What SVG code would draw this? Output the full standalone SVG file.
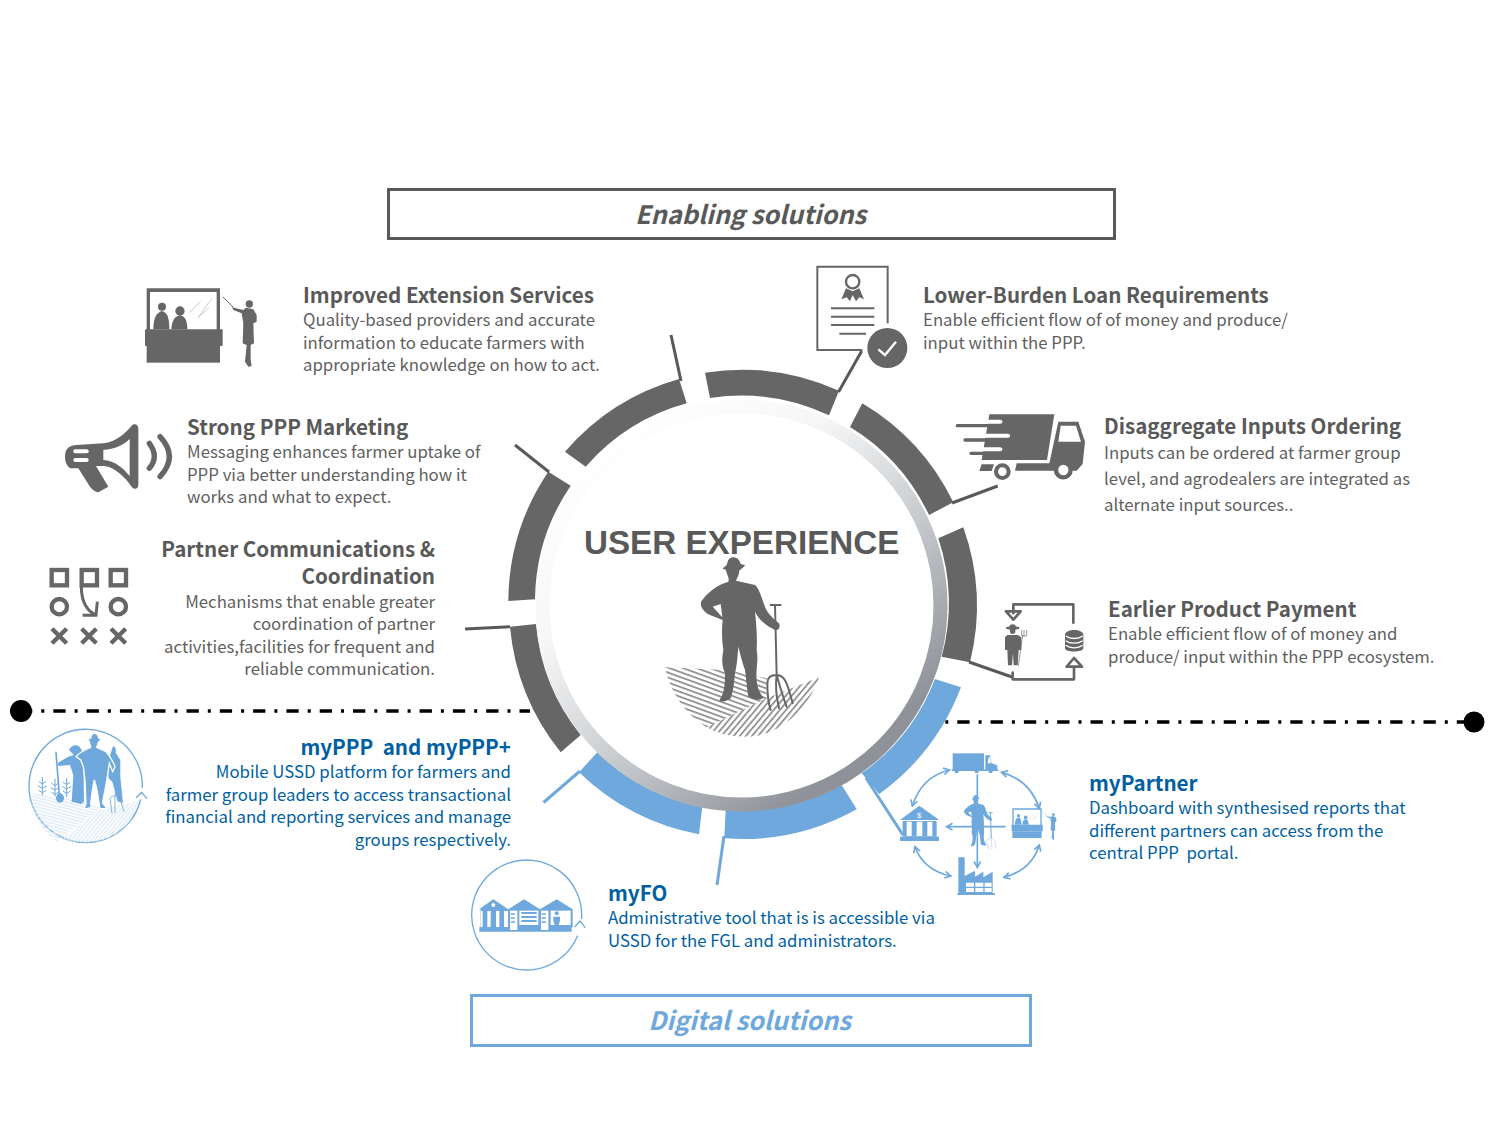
<svg xmlns="http://www.w3.org/2000/svg" width="1500" height="1125" viewBox="0 0 1500 1125">
<style>
text{font-family:"Noto Sans CJK SC","Source Sans Pro","Noto Sans",sans-serif;white-space:pre}
.h{font-size:20.600px;font-weight:700;fill:#595959}
.b{font-size:16.800px;fill:#5f5f5f}
.hb{font-size:20.600px;font-weight:700;fill:#005fa3}
.bb{font-size:16.800px;fill:#005fa3}
.e{text-anchor:end}
.t{font-size:25.300px;font-weight:700;font-style:italic;text-anchor:middle}
.seg{fill:#666}
.segb{fill:#6fa8dc}
.ln{stroke:#595959;stroke-width:3;fill:none}
.lb{stroke:#6fa8dc;stroke-width:3;fill:none}
.dd{stroke:#000;stroke-width:3.500;stroke-dasharray:12.300 9 3 9;fill:none}
.gi{fill:#666}
.bi{fill:#6fa8dc;color:#6fa8dc}
.w{fill:#fff}
.sg{fill:none;stroke:#666;stroke-linecap:round;stroke-linejoin:round}
.sb{fill:none;stroke:#6fa8dc;stroke-linecap:round;stroke-linejoin:round}
</style>
<defs>
<linearGradient id="rg" gradientUnits="userSpaceOnUse" x1="610" y1="440" x2="860" y2="750">
<stop offset="0" stop-color="#fff"/><stop offset=".3" stop-color="#f6f6f7"/><stop offset=".6" stop-color="#cdd0d3"/><stop offset="1" stop-color="#8f9399"/>
</linearGradient>
<pattern id="p1" width="14" height="14" patternUnits="userSpaceOnUse" patternTransform="rotate(20)"><rect width="14" height="5" fill="#8a8a8a"/></pattern>
<pattern id="p2" width="14" height="14" patternUnits="userSpaceOnUse" patternTransform="rotate(-50)"><rect width="14" height="5" fill="#8a8a8a"/></pattern>
<pattern id="p3" width="9" height="9" patternUnits="userSpaceOnUse" patternTransform="rotate(15)"><rect width="9" height="4" fill="#dce9f6"/></pattern>
<pattern id="p4" width="9" height="9" patternUnits="userSpaceOnUse" patternTransform="rotate(-50)"><rect width="9" height="4" fill="#dce9f6"/></pattern>
<marker id="ah" viewBox="0 0 10 10" refX="8" refY="5" markerWidth="5" markerHeight="5" orient="auto-start-reverse"><path d="M1,1L8,5L1,9" fill="none" stroke="#6fa8dc" stroke-width="2"/></marker>
<g id="farmer" fill="currentColor">
<path d="M760,652C775,652 780,665 782,672L795,675C790,685 780,688 778,692C778,705 770,715 768,722L825,735C838,745 845,775 855,800C862,820 880,835 897,850C902,860 897,872 885,870C865,860 840,845 825,815C830,860 832,900 830,930C835,960 830,975 830,990C828,1020 830,1050 850,1072C845,1082 825,1082 805,1070C800,1040 798,1010 795,990C785,960 780,940 775,920C772,960 770,980 765,1000C762,1030 760,1055 752,1075C740,1085 725,1088 718,1080C730,1065 735,1045 735,1000C725,975 725,960 730,930C725,900 725,870 728,840L690,825C670,815 660,800 663,785C680,760 710,735 745,725C750,715 738,700 738,690L727,685C735,680 742,675 742,668C745,658 750,652 760,652Z"/>
<path d="M722,792L698,800L727,832Z" fill="#fff"/>
</g>
<g id="teacher" fill="currentColor">
<path d="M380,85H600V215H590V96H390V215H380Z"/>
<rect x="375" y="208" width="233" height="50" rx="3"/><rect x="380" y="258" width="220" height="50"/>
<circle cx="426" cy="140" r="12"/><path d="M400,208C400,172 410,158 426,153C442,158 448,172 448,208Z"/>
<circle cx="480" cy="153" r="14"/><path d="M454,208C456,180 465,168 480,166C495,168 502,182 502,208Z"/>
<path d="M508,158L542,124M535,172L575,116M534,174L568,142" stroke="#ccc" stroke-width="3" fill="none"/>
<circle cx="688" cy="132" r="11"/>
<path d="M678,143L700,148L710,165V185L700,190L702,250L692,255L692,300L695,318L685,320L675,305L680,255L668,250L670,190L665,160L640,150L636,142L670,150Z"/>
<path d="M608,110L640,142" stroke="currentColor" stroke-width="3" fill="none"/>
</g>
</defs>

<rect width="1500" height="1125" fill="#fff"/>

<g id="separators">
<path class="dd" d="M20,711H530"/>
<path class="dd" d="M924,722H1464"/>
<circle cx="21" cy="711" r="11"/>
<circle cx="1474" cy="722" r="10.500"/>
</g>

<g id="ring">
<path class="seg" d="M565,451.700A235,235 0 0 1 679,379L686.700,403.300A206,206 0 0 0 585.700,466.700Z"/>
<path class="seg" d="M705,372.700A235,235 0 0 1 839,390.700L829,415.300A206,206 0 0 0 710,398Z"/>
<path class="seg" d="M862.300,403.300A235,235 0 0 1 953.300,502.300L929,515A206,206 0 0 0 850,427Z"/>
<path class="seg" d="M963.300,527.300A235,235 0 0 1 970,662.300L941.700,656.700A206,206 0 0 0 938.300,538.300Z"/>
<path class="segb" d="M961,687.300A235,235 0 0 1 879.300,794L861.700,773.300A206,206 0 0 0 935,679Z"/>
<path class="segb" d="M856.700,809.300A235,235 0 0 1 724.300,838.300L725.700,810A206,206 0 0 0 841.700,785Z"/>
<path class="segb" d="M699,834.300A235,235 0 0 1 579,772.300L597.300,752.300A206,206 0 0 0 702.300,806.700Z"/>
<path class="seg" d="M560.700,752.300A235,235 0 0 1 510,626.700L536,624A206,206 0 0 0 580.700,735Z"/>
<path class="seg" d="M508.300,601A235,235 0 0 1 548.300,471.700L570.700,485.700A206,206 0 0 0 535,599.300Z"/>
<circle cx="741.500" cy="605.500" r="199" fill="#fff" stroke="url(#rg)" stroke-width="14"/>
</g>

<g id="connectors">
<path class="ln" d="M671,335L681,381"/>
<path class="ln" d="M515,445L549,472"/>
<path class="ln" d="M465,629L510,626.700"/>
<path class="ln" d="M861.700,351L838.500,392"/>
<path class="ln" d="M997.700,486L952,503"/>
<path class="ln" d="M1012,677L969,662"/>
<path class="lb" d="M543.500,802.500L580,771"/>
<path class="lb" d="M717,885L724,836"/>
<path class="lb" d="M866,778L903,835"/>
</g>

<g id="center">
<text x="584" y="554" style="font-family:'Liberation Sans',Arial,sans-serif;font-size:33.200px;font-weight:700;fill:#595959">USER EXPERIENCE</text>
<g transform="translate(480,340) scale(.33333)" color="#666">
<path d="M555,982L740,990L860,1015L860,1075L680,1162C610,1120 570,1050 555,982Z" fill="url(#p1)"/>
<path d="M680,1162L860,1075L1017,1012C990,1100 900,1190 800,1190C750,1190 710,1180 680,1162Z" fill="url(#p2)"/>
<use href="#farmer"/>
<path class="sg" stroke-width="6" d="M885,795L890,1005M872,795H902M890,1005C870,1005 862,1015 862,1030C862,1060 865,1090 872,1110M890,1005C885,1040 890,1075 897,1105M890,1005C900,1040 910,1075 920,1100M890,1005C915,1005 922,1030 938,1090"/>
</g>
</g>

<g id="title-enabling">
<rect x="388.500" y="189.500" width="726" height="49" fill="#fff" stroke="#595959" stroke-width="3"/>
<text class="t" x="750.500" y="224" fill="#595959">Enabling solutions</text>
</g>

<g id="title-digital">
<rect x="471.500" y="995.500" width="559" height="50" fill="#fff" stroke="#6fa8dc" stroke-width="3"/>
<text class="t" x="749.500" y="1030" fill="#6fa8dc">Digital solutions</text>
</g>

<g id="node-extension">
<g transform="translate(20,260) scale(.33333)" color="#666"><use href="#teacher"/></g>
<text class="h" x="303" y="303">Improved Extension Services</text>
<text class="b" x="303" y="326">Quality-based providers and accurate</text>
<text class="b" x="303" y="349">information to educate farmers with</text>
<text class="b" x="303" y="371">appropriate knowledge on how to act.</text>
</g>

<g id="node-marketing">
<g transform="translate(20,260) scale(.33333)">
<path class="gi" d="M135,590C135,565 150,555 170,555L250,550C290,545 315,520 335,497C345,488 355,495 355,505L355,675C355,688 342,690 335,680C310,645 280,620 250,618L228,618L265,680L235,697C225,695 218,690 210,680L175,625L155,625C145,625 135,610 135,590Z"/>
<path class="w" d="M250,570C285,568 310,555 329,537V648C310,625 285,602 250,600Z"/>
<rect class="w" x="160" y="568" width="46" height="12" rx="6"/><rect class="w" x="160" y="594" width="46" height="12" rx="6"/>
<path class="sg" stroke-width="16" d="M388,550Q418,590 388,625M420,530Q476,590 420,650"/>
</g>
<text class="h" x="187" y="435">Strong PPP Marketing</text>
<text class="b" x="187" y="458">Messaging enhances farmer uptake of</text>
<text class="b" x="187" y="481">PPP via better understanding how it</text>
<text class="b" x="187" y="503">works and what to expect.</text>
</g>

<g id="node-communications">
<g transform="translate(20,260) scale(.33333)">
<g class="sg" stroke-width="13" style="stroke-linecap:butt;stroke-linejoin:miter">
<rect x="95" y="930" width="46" height="46"/><rect x="185" y="930" width="46" height="46"/><rect x="272" y="930" width="46" height="46"/>
<circle cx="118" cy="1040" r="23"/><circle cx="295" cy="1040" r="23"/>
<path d="M96,1106L140,1150M140,1106L96,1150M185,1106L229,1150M229,1106L185,1150M273,1106L317,1150M317,1106L273,1150"/>
<path stroke-width="9" d="M184,980C184,1030 205,1055 226,1064M232,1025L228,1066L188,1066"/>
</g>
</g>
<text class="h e" x="435" y="557">Partner Communications &amp;</text>
<text class="h e" x="435" y="584">Coordination</text>
<text class="b e" x="435" y="608">Mechanisms that enable greater</text>
<text class="b e" x="435" y="630">coordination of partner</text>
<text class="b e" x="435" y="653">activities,facilities for frequent and</text>
<text class="b e" x="435" y="675">reliable communication.</text>
</g>

<g id="node-loan">
<g transform="translate(800,260) scale(.33333)">
<path class="sg" stroke-width="6" style="stroke-linecap:butt;stroke-linejoin:miter" d="M263,190V20H52V270H187"/>
<circle class="sg" cx="158" cy="65" r="20" stroke-width="7"/>
<path class="gi" d="M138,85L124,118L140,112L150,124L158,105L168,124L178,112L192,118L178,85L158,94Z"/>
<path class="sg" stroke-width="6" style="stroke-linecap:butt" d="M93,145H223M93,170H223M93,195H223M118,221H198"/>
<circle class="gi" cx="262" cy="264" r="60"/>
<path d="M235,268L255,285L288,245" fill="none" stroke="#fff" stroke-width="7"/>
</g>
<text class="h" x="923" y="303">Lower-Burden Loan Requirements</text>
<text class="b" x="923" y="326">Enable efficient flow of of money and produce/</text>
<text class="b" x="923" y="349">input within the PPP.</text>
</g>

<g id="node-ordering">
<g transform="translate(800,260) scale(.33333)">
<path class="gi" d="M568,463H763L741,600H545Z"/>
<path class="w" d="M545,479H600C610,479 610,491 600,491H545ZM540,521H623C633,521 633,533 623,533H540ZM540,562H600C610,562 610,574 600,574H540Z"/>
<path class="sg" stroke-width="10" d="M472,497H570M495,540H570M513,580H560"/>
<path class="gi" d="M775,485H835L855,545L848,612L830,632H645L650,610H748Z"/>
<path class="w" d="M782,497H828L843,545H775Z"/>
<path class="gi" d="M545,613H582L575,633H538Z"/>
<circle cx="790" cy="630" r="22" fill="#fff" stroke="#666" stroke-width="13"/>
<circle cx="607" cy="635" r="19" fill="#fff" stroke="#666" stroke-width="12"/>
</g>
<text class="h" x="1104" y="434">Disaggregate Inputs Ordering</text>
<text class="b" x="1104" y="459">Inputs can be ordered at farmer group</text>
<text class="b" x="1104" y="485">level, and agrodealers are integrated as</text>
<text class="b" x="1104" y="511">alternate input sources..</text>
</g>

<g id="node-payment">
<g transform="translate(800,260) scale(.33333)">
<path class="sg" stroke-width="8" d="M640,1060V1033H820V1088M638,1238V1258H822V1222M800,1220H846L822,1194ZM618,1054H662L640,1079Z"/>
<ellipse class="gi" cx="638" cy="1104" rx="21" ry="5"/><circle class="gi" cx="638" cy="1103" r="10"/><circle class="gi" cx="638" cy="1114" r="8"/>
<path class="gi" d="M622,1125H654L664,1132V1170H656L653,1216H641L639,1180L636,1216H624L622,1170H615V1132Z"/>
<path d="M668,1125L655,1218M665,1110V1128H680V1110M672,1110V1128" fill="none" stroke="#666" stroke-width="2"/>
<path class="gi" d="M795,1125C795,1105 850,1105 850,1125V1165C850,1178 795,1178 795,1165Z"/>
<path d="M797,1128C810,1138 835,1138 848,1128M797,1142C810,1152 835,1152 848,1142M797,1156C810,1166 835,1166 848,1156" fill="none" stroke="#fff" stroke-width="4"/>
</g>
<text class="h" x="1108" y="617">Earlier Product Payment</text>
<text class="b" x="1108" y="640">Enable efficient flow of of money and</text>
<text class="b" x="1108" y="663">produce/ input within the PPP ecosystem.</text>
</g>

<g id="node-myppp">
<g transform="translate(0,700) scale(.33333)">
<path class="sb" stroke-width="4" d="M426.950,262A170,170 0 1 0 421.700,300M410,292L425,277L440,295"/>
<path d="M90,280C140,285 250,300 300,325L170,425C120,390 95,340 90,280Z" fill="url(#p3)"/>
<path d="M185,420L300,325L415,305C405,370 340,428 257,428C230,428 205,425 185,420Z" fill="url(#p4)"/>
<path class="sb" stroke-width="3" d="M127,232V285M117,245L127,252L137,245M115,258L127,265L139,258M117,272L127,278L137,272M165,238V288M155,250L165,257L175,250M153,263L165,270L177,263M155,277L165,283L175,277M200,235V290M190,247L200,254L210,247M188,260L200,267L212,260M190,274L200,280L210,274"/>
<path class="sb" stroke-width="5" d="M168,157L178,285"/>
<ellipse class="bi" cx="180" cy="294" rx="12" ry="14"/>
<path class="bi" d="M207,150C215,132 238,130 245,150L250,180L252,305L243,312L215,305L220,225L210,195L175,198L174,188L205,170L222,165Z"/>
<path class="bi" d="M338,138C346,138 350,145 348,158L362,180L362,230L370,310L352,305L336,245L325,235L320,190L328,170Z" stroke="#fff" stroke-width="2"/>
<path class="bi" stroke="#fff" stroke-width="4" d="M283,100C292,100 295,108 296,114L306,118C300,124 295,125 294,130C293,136 290,140 290,142L318,155C330,170 340,185 345,200L338,215L328,190L322,230C318,260 310,290 308,310L322,326L300,325L290,265L283,240L278,265L272,310L274,322L252,328L258,310L255,240L250,200L242,180L228,170C240,155 260,148 272,142C272,136 268,130 268,125L262,118L272,114C273,108 276,100 283,100Z"/>
<path d="M350,230L345,292M330,295C335,285 360,285 360,295M330,295L336,340M345,292V340M360,295L372,335" fill="none" stroke="#6fa8dc" stroke-width="2.500"/>
</g>
<text class="hb e" x="511" y="755">myPPP  and myPPP+</text>
<text class="bb e" x="511" y="778">Mobile USSD platform for farmers and</text>
<text class="bb e" x="511" y="801">farmer group leaders to access transactional</text>
<text class="bb e" x="511" y="823">financial and reporting services and manage</text>
<text class="bb e" x="511" y="846">groups respectively.</text>
</g>

<g id="node-myfo">
<g transform="translate(460,850) scale(.33333)">
<path class="sb" stroke-width="4" d="M364.690,205.070A165,165 0 1 0 352.440,258.140M345,230L360,213L375,232"/>
<path class="bi" d="M57,178L100,148L145,178L192,148L240,178L290,148L338,178V232H335V245H58V232H62V178Z"/>
<g class="w">
<circle cx="100" cy="165" r="6"/>
<rect x="82" y="183" width="10" height="48"/><rect x="108" y="183" width="10" height="48"/><rect x="63" y="183" width="5" height="48"/><rect x="132" y="183" width="12" height="48"/>
<rect x="150" y="182" width="22" height="58"/><rect x="178" y="182" width="57" height="43"/><rect x="243" y="182" width="22" height="58"/><rect x="272" y="182" width="60" height="43"/>
</g>
<path class="bi" d="M184,186H230V192H184ZM184,198H230V204H184ZM184,210H230V216H184ZM152,190H165V194H152ZM152,202H165V206H152ZM152,214H165V218H152ZM245,190H258V194H245ZM245,202H258V206H245ZM245,214H258V218H245Z"/>
<circle class="bi" cx="290" cy="190" r="6"/><path class="bi" d="M280,200H300V212L296,225H284L280,212Z"/>
</g>
<text class="hb" x="608" y="901">myFO</text>
<text class="bb" x="608" y="924">Administrative tool that is is accessible via</text>
<text class="bb" x="608" y="947">USSD for the FGL and administrators.</text>
</g>

<g id="node-mypartner">
<g transform="translate(880,740) scale(.33333)">
<g class="bi">
<rect x="218" y="40" width="94" height="52"/>
<path d="M316,46H330L335,70L352,76V92H316Z"/>
<circle cx="230" cy="94" r="6"/><circle cx="290" cy="94" r="6"/><circle cx="332" cy="94" r="6"/><rect x="215" y="88" width="140" height="5"/>
<path d="M60,240L118,197L178,240Z"/>
<path d="M68,243H170V290H68Z"/>
<rect x="60" y="290" width="117" height="13"/>
<path d="M235,352H254V408L285,392V410L310,395V412L338,395V460H345V465H232V460H235Z"/>
</g>
<path class="w" d="M80,245H95V288H80ZM110,245H127V288H110ZM142,245H157V288H142ZM258,428H282V440H258ZM286,428H310V440H286ZM314,428H335V440H314ZM258,444H282V456H258ZM286,444H310V456H286ZM314,444H335V456H314ZM326,52H331L333,70H323Z"/>
<text x="118" y="234" text-anchor="middle" style="font-family:'Liberation Sans',sans-serif;font-size:24px;fill:#fff">$</text>
<g transform="translate(245,171) scale(.4)" color="#6fa8dc"><use href="#teacher"/></g>
<path class="sb" stroke-width="5" marker-start="url(#ah)" marker-end="url(#ah)" d="M200,260H375M292,105V382"/>
<g transform="translate(17,-66.500) scale(.355)" color="#6fa8dc"><use href="#farmer"/></g>
<path d="M331,218L334,295M325,218H338" stroke="#6fa8dc" stroke-width="3" fill="none"/>
<path d="M334,295C322,296 320,300 320,306L326,328M334,295L336,328M334,295C345,296 346,302 348,325" stroke="#b7d3ee" stroke-width="2" fill="none"/>
<g class="sb" stroke-width="5">
<path marker-start="url(#ah)" marker-end="url(#ah)" d="M208,90Q125,110 97,198"/>
<path marker-start="url(#ah)" marker-end="url(#ah)" d="M365,97Q450,120 478,205"/>
<path marker-start="url(#ah)" marker-end="url(#ah)" d="M478,315Q455,390 372,412"/>
<path marker-start="url(#ah)" marker-end="url(#ah)" d="M105,320Q130,390 212,408"/>
</g>
</g>
<text class="hb" x="1089" y="791">myPartner</text>
<text class="bb" x="1089" y="814">Dashboard with synthesised reports that</text>
<text class="bb" x="1089" y="837">different partners can access from the</text>
<text class="bb" x="1089" y="859">central PPP  portal.</text>
</g>
</svg>
